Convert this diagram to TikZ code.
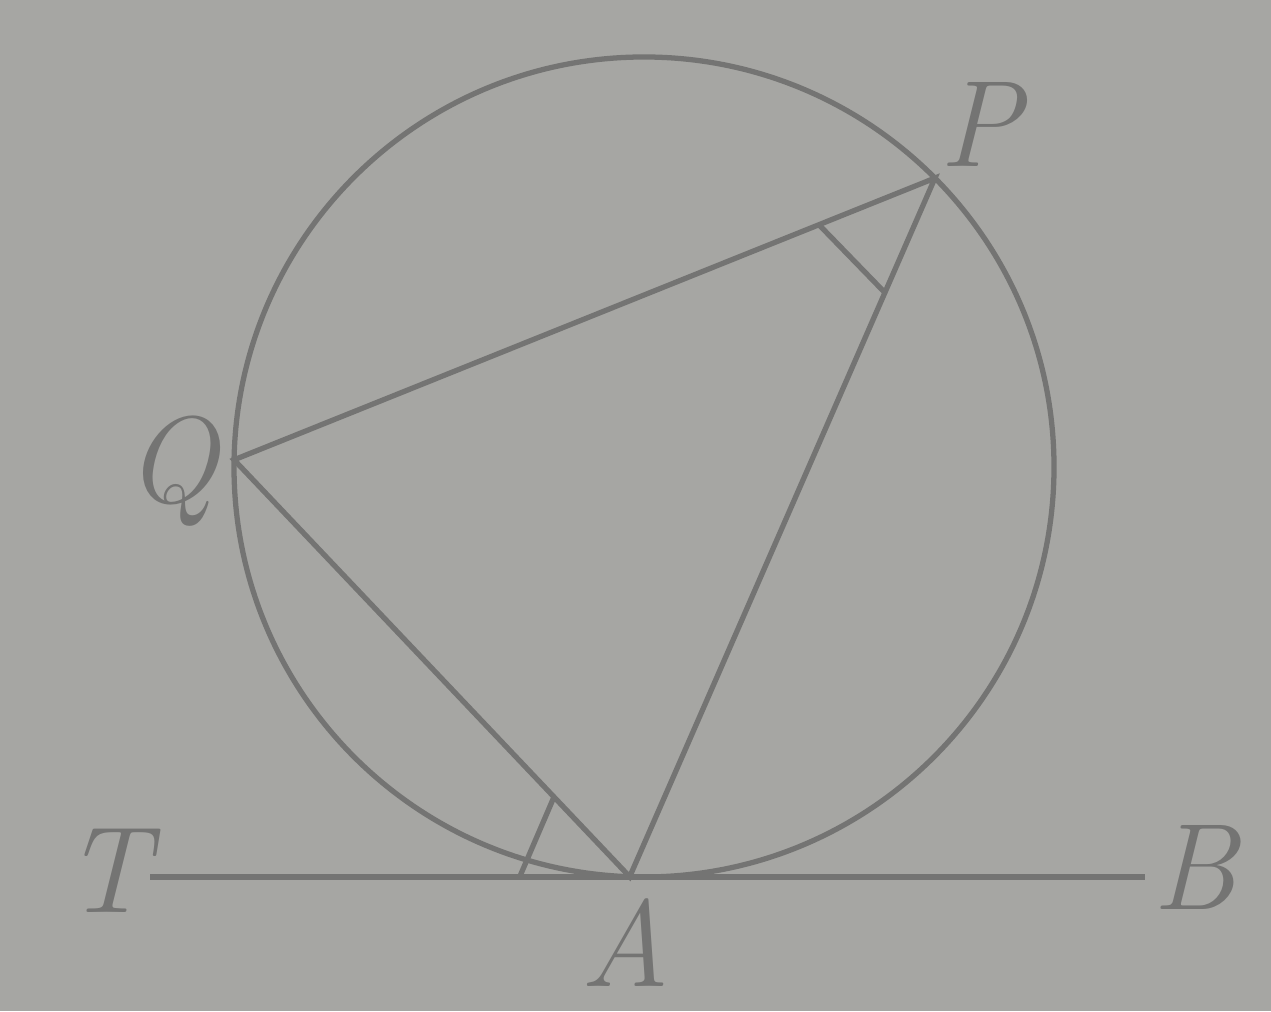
\documentclass[tikz,border=0pt]{standalone}
\usetikzlibrary{calc}
\definecolor{paper}{RGB}{166,166,163}
\definecolor{ink}{RGB}{116,116,115}

\begin{document}
\begin{tikzpicture}[color=ink,line width=1.5pt,
  lbl/.style={font=\fontsize{35}{40}\selectfont\itshape}]
  \fill[paper] (0,0) rectangle (12.71,10.11);
  \useasboundingbox (0,0) rectangle (12.71,10.11);
  % circle and points on it
  \coordinate (O) at (6.44,5.44);
  \coordinate (A) at ($(O)+(268:4.1)$);
  \coordinate (P) at ($(O)+(44.8:4.1)$);
  \coordinate (Q) at ($(O)+(179:4.1)$);
  \coordinate (T) at (1.5,1.34);
  \coordinate (B) at (11.45,1.34);
  \draw (O) circle (4.1);
  \draw (T) -- (B);
  \draw (Q) -- (P) -- (A) -- cycle;
  % equal angles
  \draw ($(P)!1.25cm!(Q)$) -- ($(P)!1.25cm!(A)$);
  \draw ($(A)!1.1cm!(T)$) -- ($(A)!1.1cm!(Q)$);
  % labels
  \node[lbl] (labT) at (1.07,1.40) {T};
  \node[lbl] (labB) at (11.95,1.44) {B};
  \node[lbl] (labA) at (6.25,0.68) {A};
  \node[lbl] (labP) at (9.80,8.86) {P};
  \node[lbl] (labQ) at (1.72,5.40) {Q};
\end{tikzpicture}
\end{document}
